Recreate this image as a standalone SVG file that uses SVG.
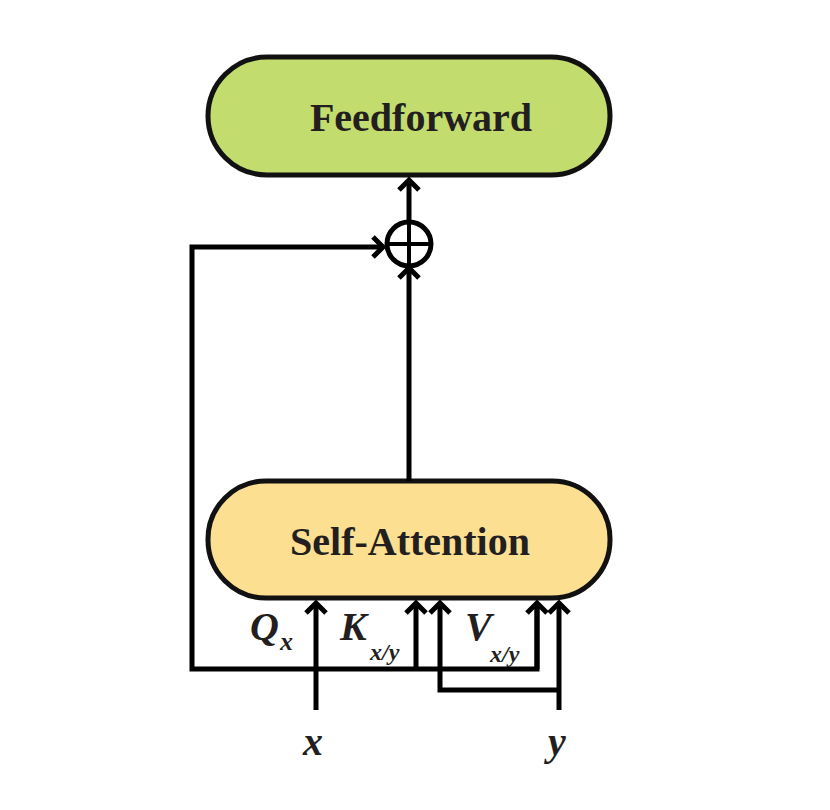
<svg xmlns="http://www.w3.org/2000/svg" width="830" height="810" viewBox="0 0 830 810">
<style>
.box{stroke:#111;stroke-width:5}
.lbl{font-family:"Liberation Serif",serif;font-weight:bold;font-size:40px;fill:#231f20;text-anchor:middle}
.it{font-family:"Liberation Serif",serif;font-weight:bold;font-style:italic;fill:#231f20}
.c{fill:none;stroke:#000;stroke-width:5}
</style>
<defs>
<marker id="a" markerUnits="userSpaceOnUse" markerWidth="24" markerHeight="24" refX="12" refY="12" orient="auto" viewBox="0 0 24 24">
<polyline points="2,2 12,12 2,22" fill="none" stroke="#000" stroke-width="5"/>
</marker>
</defs>
<rect width="830" height="810" fill="#fff"/>
<g id="feedforward"><rect class="box" x="208" y="57" width="402" height="118" rx="59" fill="#c3dc6e"/><text class="lbl" x="421" y="131">Feedforward</text></g>
<g id="selfattention"><rect class="box" x="208" y="481" width="402" height="117" rx="58" fill="#fddf92"/><text class="lbl" x="410" y="555">Self-Attention</text></g>
<g id="plus"><circle cx="409" cy="244" r="22" fill="#fff" stroke="#000" stroke-width="5"/><line x1="387" y1="244" x2="431" y2="244" stroke="#000" stroke-width="4"/><line x1="409" y1="222" x2="409" y2="266" stroke="#000" stroke-width="4"/></g>
<g id="connectors">
<path class="c" d="M409,481 V268" marker-end="url(#a)"/>
<path class="c" d="M409,222 V180" marker-end="url(#a)"/>
<path class="c" d="M537,605 V669 H192 V247 H383" marker-end="url(#a)"/>
<path class="c" d="M416,669 V603" marker-end="url(#a)"/>
<path class="c" d="M537,669 V603" marker-end="url(#a)"/>
<path class="c" d="M316,710 V603" marker-end="url(#a)"/>
<path class="c" d="M559,710 V603" marker-end="url(#a)"/>
<path class="c" d="M559,690 H440 V603" marker-end="url(#a)"/>
</g>
<g id="labels">
<text class="it" x="250" y="640" font-size="40">Q</text><text class="it" x="280" y="650" font-size="26">x</text>
<text class="it" x="340" y="640" font-size="40">K</text><text class="it" x="370" y="660" font-size="24">x/y</text>
<text class="it" x="465" y="640" font-size="40">V</text><text class="it" x="490" y="662" font-size="24">x/y</text>
<text class="it" x="303" y="755" font-size="40">x</text>
<text class="it" x="548" y="755" font-size="40">y</text>
</g>
</svg>
